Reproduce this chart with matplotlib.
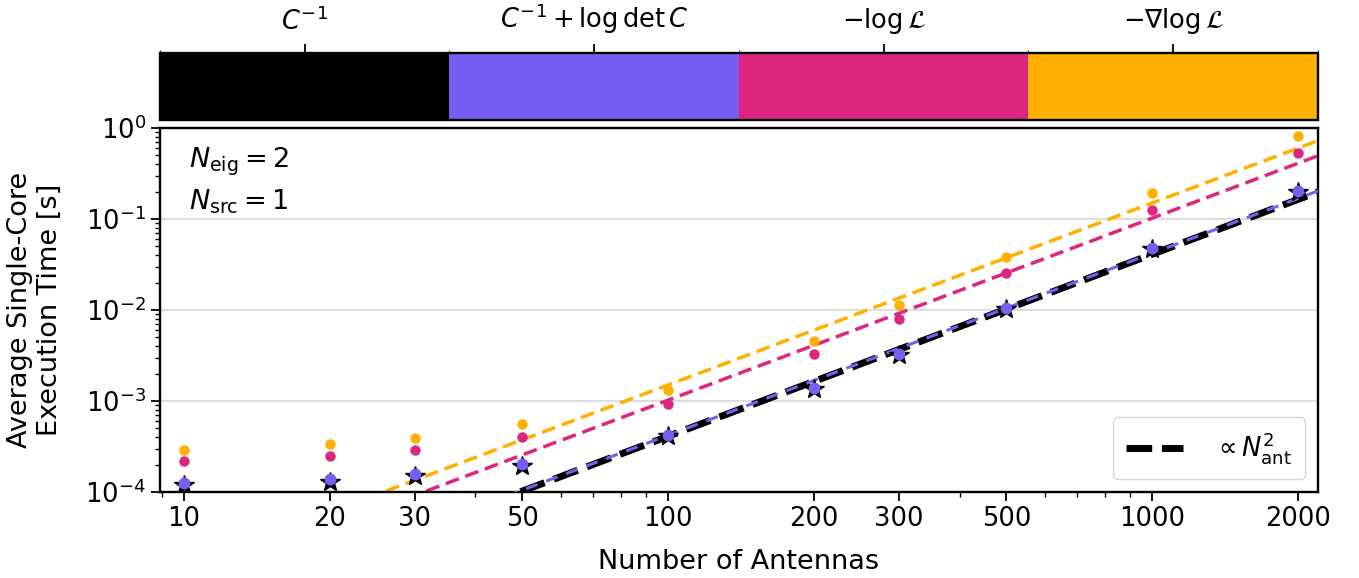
import matplotlib
matplotlib.use("Agg")
import matplotlib.pyplot as plt
import matplotlib.colors as mcolors
import matplotlib.cm as cm
import numpy as np

# data
n_ant = np.array([10, 20, 30, 50, 100, 200, 300, 500, 1000, 2000])
t_cinv = np.array([1.18e-4, 1.30e-4, 1.48e-4, 1.95e-4, 4.1e-4, 1.35e-3, 3.2e-3, 1.03e-2, 4.7e-2, 0.198])
t_cinv_logdet = np.array([1.26e-4, 1.39e-4, 1.58e-4, 2.03e-4, 4.23e-4, 1.39e-3, 3.28e-3, 1.05e-2, 4.80e-2, 0.203])
t_loglike = np.array([2.19e-4, 2.49e-4, 2.9e-4, 4.02e-4, 9.27e-4, 3.28e-3, 7.96e-3, 2.55e-2, 0.1256, 0.531])
t_grad = np.array([2.9e-4, 3.37e-4, 3.92e-4, 5.6e-4, 1.32e-3, 4.56e-3, 1.13e-2, 3.82e-2, 0.193, 0.817])

labels = [r'$C^{-1}$', r'$C^{-1} + \log\det C$', r'$-\log\mathcal{L}$', r'$-\nabla\log\mathcal{L}$']
colors = ['#000000', '#785EF0', '#DC267F', '#FFB000']
xticks = [10, 20, 30, 50, 100, 200, 300, 500, 1000, 2000]


def n2_fit(n, t, nmin=100):
    # fixed slope 2 fit in log space over large N
    m = n >= nmin
    return np.exp(np.mean(np.log(t[m]) - 2 * np.log(n[m])))


fig = plt.figure(figsize=(13.59, 5.78), dpi=100)
ax = fig.add_axes([0.1177, 0.1488, 0.8521, 0.6298])
cax = fig.add_axes([0.1177, 0.7924, 0.8521, 0.1159])

xx = np.logspace(np.log10(8), np.log10(2500), 200)

# fit lines
a = n2_fit(n_ant, t_cinv)
ax.plot(xx, a * xx**2, color='k', ls=(0, (3.7, 1.4)), lw=5, zorder=2)
a = n2_fit(n_ant, t_cinv_logdet)
ax.plot(xx, a * xx**2, color=colors[1], ls=(0, (4, 3)), lw=2.2, zorder=3)
a = n2_fit(n_ant, t_loglike)
ax.plot(xx, a * xx**2, color=colors[2], ls=(0, (4, 2)), lw=2.5, zorder=2)
a = n2_fit(n_ant, t_grad)
ax.plot(xx, a * xx**2, color=colors[3], ls=(0, (4, 2)), lw=2.5, zorder=2)

# points
ax.plot(n_ant, t_cinv, '*', color='k', ms=15, ls='none', zorder=4)
ax.plot(n_ant, t_cinv_logdet, 'o', color=colors[1], ms=7.5, ls='none', zorder=5)
ax.plot(n_ant, t_loglike, 'o', color=colors[2], ms=6.5, ls='none', zorder=4)
ax.plot(n_ant, t_grad, 'o', color=colors[3], ms=6.5, ls='none', zorder=4)

# legend handle
h, = ax.plot([], [], color='k', ls=(0, (3.7, 1.4)), lw=5)
ax.legend([h], [r'$\propto N_{\rm ant}^2$'], loc='lower right', fontsize=18.5,
          handlelength=2.2, borderpad=0.5, handletextpad=1.2)

ax.set_xscale('log')
ax.set_yscale('log')
ax.set_xlim(8.92, 2200)
ax.set_ylim(1e-4, 1)
ax.set_xticks(xticks)
ax.set_xticklabels([str(v) for v in xticks])
ax.xaxis.set_minor_formatter(matplotlib.ticker.NullFormatter())
ax.tick_params(labelsize=18.5, which='major', length=6.5, width=1.3)
ax.tick_params(which='minor', length=3.5, width=1.0)
ax.grid(axis='y', which='major', color='#dddddd', lw=1.5)
ax.set_axisbelow(True)
for s in ax.spines.values():
    s.set_linewidth(1.7)
ax.set_xlabel('Number of Antennas', fontsize=19.5, labelpad=12)
ax.set_ylabel('Average Single-Core\nExecution Time [s]', fontsize=19.5, labelpad=16)
ax.text(0.025, 0.95, r'$N_{\rm eig} = 2$' + '\n' + r'$N_{\rm src} = 1$', transform=ax.transAxes,
        fontsize=19.5, va='top', ha='left', linespacing=1.4)

# colour bar on top
cmap = mcolors.ListedColormap(colors)
norm = mcolors.BoundaryNorm(np.arange(5), cmap.N)
cb = fig.colorbar(cm.ScalarMappable(norm=norm, cmap=cmap), cax=cax, orientation='horizontal',
                  ticks=np.arange(4) + 0.5)
cb.ax.xaxis.set_ticks_position('top')
cb.ax.set_xticklabels(labels, fontsize=18.5)
cb.ax.tick_params(length=6.5, width=1.3, pad=6)
cb.outline.set_linewidth(1.7)

fig.savefig('out.png', dpi=100)
